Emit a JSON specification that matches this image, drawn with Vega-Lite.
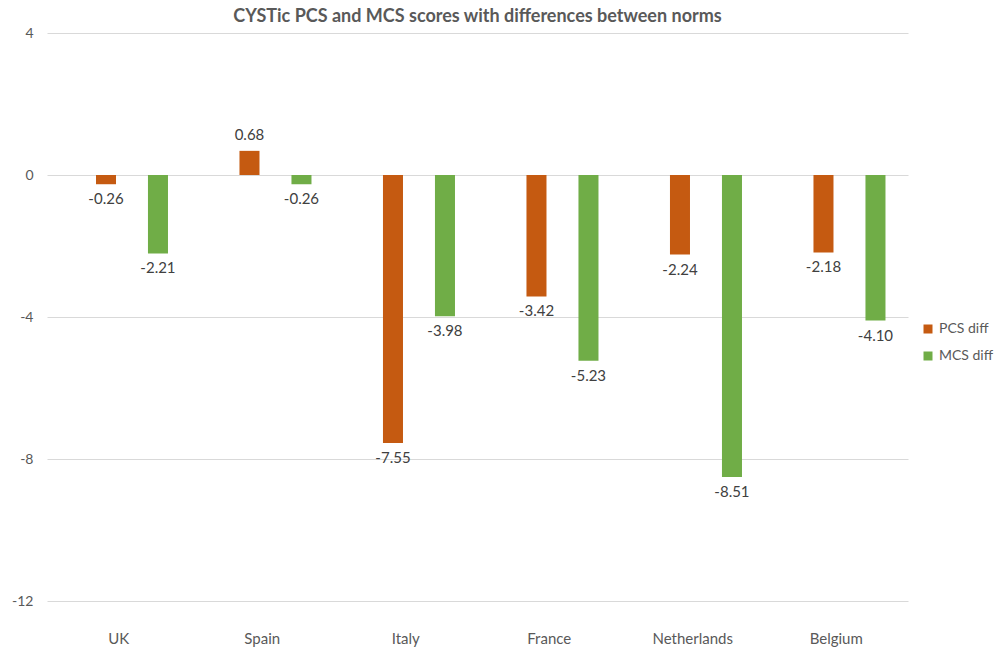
{
  "$schema": "https://vega.github.io/schema/vega-lite/v6.json",
  "autosize": "none",
  "padding": {"left": 47, "top": 33, "right": 87, "bottom": 50},
  "width": 861,
  "height": 568,
  "background": "white",
  "config": {
    "font": "Lato",
    "view": {"stroke": null},
    "locale": {
      "number": {"decimal": ".", "thousands": ",", "grouping": [3], "currency": ["$", ""], "minus": "-"}
    }
  },
  "title": {
    "text": "CYSTic PCS and MCS scores with differences between norms",
    "fontSize": 18,
    "fontWeight": "bold",
    "color": "#595959",
    "anchor": "middle",
    "offset": 0
  },
  "data": {
    "values": [
      {"country": "UK", "series": "PCS diff", "value": -0.26},
      {"country": "UK", "series": "MCS diff", "value": -2.21},
      {"country": "Spain", "series": "PCS diff", "value": 0.68},
      {"country": "Spain", "series": "MCS diff", "value": -0.26},
      {"country": "Italy", "series": "PCS diff", "value": -7.55},
      {"country": "Italy", "series": "MCS diff", "value": -3.98},
      {"country": "France", "series": "PCS diff", "value": -3.42},
      {"country": "France", "series": "MCS diff", "value": -5.23},
      {"country": "Netherlands", "series": "PCS diff", "value": -2.24},
      {"country": "Netherlands", "series": "MCS diff", "value": -8.51},
      {"country": "Belgium", "series": "PCS diff", "value": -2.18},
      {"country": "Belgium", "series": "MCS diff", "value": -4.10}
    ]
  },
  "encoding": {
    "x": {
      "field": "country",
      "type": "nominal",
      "sort": ["UK", "Spain", "Italy", "France", "Netherlands", "Belgium"],
      "scale": {"paddingInner": 0, "paddingOuter": 0},
      "axis": {
        "title": null,
        "labelAngle": 0,
        "domain": false,
        "ticks": false,
        "labelPadding": 30,
        "labelFontSize": 15,
        "labelColor": "#595959",
        "grid": false
      }
    },
    "xOffset": {
      "field": "series",
      "type": "nominal",
      "sort": ["PCS diff", "MCS diff"],
      "scale": {"paddingInner": 0.615, "paddingOuter": 0.6875, "align": 0.685}
    },
    "y": {
      "field": "value",
      "type": "quantitative",
      "scale": {"domain": [-12, 4], "nice": false, "zero": false},
      "axis": {
        "title": null,
        "values": [-12, -8, -4, 0, 4],
        "domain": false,
        "ticks": false,
        "labelPadding": 14,
        "labelFontSize": 14,
        "labelColor": "#595959",
        "gridColor": "#d9d9d9",
        "gridWidth": 1
      }
    }
  },
  "layer": [
    {
      "mark": {"type": "bar", "orient": "vertical"},
      "encoding": {
        "color": {
          "field": "series",
          "type": "nominal",
          "sort": ["PCS diff", "MCS diff"],
          "scale": {"domain": ["PCS diff", "MCS diff"], "range": ["#C55A11", "#70AD47"]},
          "legend": {
            "title": null,
            "orient": "none",
            "legendX": 874,
            "legendY": 289,
            "padding": 0,
            "symbolType": "square",
            "symbolSize": 81,
            "symbolStrokeWidth": 0,
            "labelFontSize": 14,
            "labelColor": "#595959",
            "labelOffset": 4,
            "rowPadding": 13
          }
        }
      }
    },
    {
      "transform": [{"filter": "datum.value < 0"}],
      "mark": {"type": "text", "baseline": "top", "dy": 8, "fontSize": 15, "color": "#404040"},
      "encoding": {
        "text": {"field": "value", "type": "quantitative", "format": ".2f"}
      }
    },
    {
      "transform": [{"filter": "datum.value >= 0"}],
      "mark": {"type": "text", "baseline": "bottom", "dy": -8, "fontSize": 15, "color": "#404040"},
      "encoding": {
        "text": {"field": "value", "type": "quantitative", "format": ".2f"}
      }
    }
  ]
}
